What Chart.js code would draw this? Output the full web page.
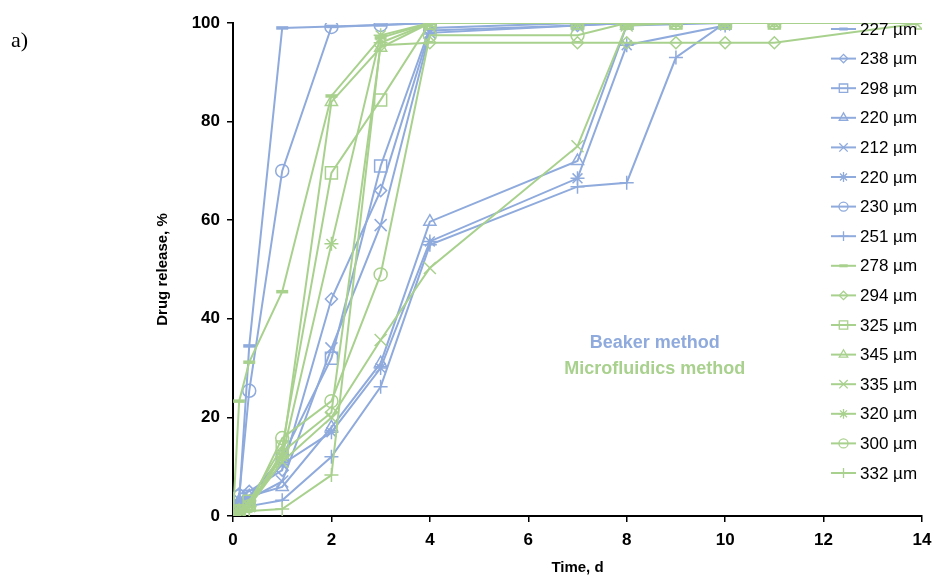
<!DOCTYPE html>
<html>
<head>
<meta charset="utf-8">
<script src="https://cdn.jsdelivr.net/npm/chart.js@4.4.1/dist/chart.umd.min.js"></script>
<style>
html,body{margin:0;padding:0;background:#fff}
#wrap{position:relative;width:932px;height:579px}
</style>
</head>
<body>
<div id="wrap"><canvas id="c" width="932" height="579"></canvas></div>
<script>
// ── Data ──────────────────────────────────────────────────────────────────────
const TIMES = [0, 0.125, 0.33, 1, 2, 3, 4, 7, 8, 9, 10, 11, 14];

const BEAKER_LABELS = ['227 µm','238 µm','298 µm','220 µm','212 µm','220 µm','230 µm','251 µm'];
const MICRO_LABELS  = ['278 µm','294 µm','325 µm','345 µm','335 µm','320 µm','300 µm','332 µm'];

// beaker method (null = no sample at that time)
const b227 = [0, 3,   34.5, 99,  99.3, 99.6, 100,  100,  100,  null, 100,  null, null];
const b238 = [0, 4.5, 5,    9.3, 44,   66,   98.5, 99.5, 100,  null, 100,  null, null];
const b298 = [0, 2,   4,    12,  32,   71,   99,   100,  100,  null, 100,  null, null];
const b220a= [0, 3,   4,    5.9, 18,   31,   59.7, 72,   99.5, null, 100,  null, null];
const b212 = [0, 2,   3.5,  7,   34,   59,   98,   99.5, 100,  null, 100,  null, null];
const b220b= [0, 2.5, 3,    10.5,17,   30,   55.7, 68.5, 95.5, null, 99.5, null, null];
const b230 = [0, 4,   25.4, 70,  99.2, 99.6, 100,  100,  100,  null, 100,  null, null];
const b251 = [0, 1,   2,    3.2, 12,   26.2, 55,   66.8, 67.6, 93,   100,  null, null];

// microfluidics method
const m278 = [0, 23.3, 31.2, 45.5, 85.2, 97,   100,  100,  100,  100, 100, 100, null];
const m294 = [0, 1,    2,    13,   21,   95.5, 96,   96,   96,   96,  96,  96,  100];
const m325 = [0, 1,    3,    14,   69.6, 84.4, 100,  100,  100,  100, 100, 100, 100];
const m345 = [0, 1,    2,    12.5, 84,   95,   100,  100,  100,  100, 100, 100, null];
const m335 = [0, 1,    2,    11,   20,   35.7, 50.3, 75,   99.5, 100, 100, 100, null];
const m320 = [0, 1,    2,    12,   55.2, 97.5, 100,  100,  100,  100, 100, 100, null];
const m300 = [0, 1,    2,    15.8, 23.3, 49,   97.5, 97.5, 100,  100, 100, 100, null];
const m332 = [0, 0.5,  1,    1.4,  8.3,  96,   100,  100,  100,  100, 100, 100, null];

const BEAKER_VALUES = [b227, b238, b298, b220a, b212, b220b, b230, b251];
const MICRO_VALUES  = [m278, m294, m325, m345, m335, m320, m300, m332];

const Y_TICKS = [0, 20, 40, 60, 80, 100];
const X_TICKS = [0, 2, 4, 6, 8, 10, 12, 14];

// ── Styles ────────────────────────────────────────────────────────────────────
const BLUE = '#8FAADC', GREEN = '#A9D18E';
const FONT = '"Liberation Sans", Arial, sans-serif';
// marker per position in each group: [pointStyle, radius, borderWidth]
const MARKERS = [
  ['line', 6, 3.5], ['rectRot', 6, 1.5], ['rect', 8.5, 1.5], ['triangle', 7, 1.5],
  ['crossRot', 8.5, 1.5], ['star', 7, 1.5], ['circle', 6.5, 1.5], ['cross', 7, 1.5]
];

function mkSet(label, vals, color, k, order) {
  const m = MARKERS[k];
  return {
    label, borderColor: color, backgroundColor: 'rgba(0,0,0,0)',
    data: TIMES.map((t, i) => ({x: t, y: vals[i]})).filter(p => p.y !== null),
    borderWidth: 2, pointStyle: m[0], pointRadius: m[1], pointBorderWidth: m[2],
    pointBackgroundColor: 'rgba(0,0,0,0)', pointBorderColor: color,
    pointHoverRadius: m[1], tension: 0, fill: false, order
  };
}

const datasets = [];
BEAKER_VALUES.forEach((v, k) => datasets.push(mkSet(BEAKER_LABELS[k], v, BLUE, k, 16 - k)));
MICRO_VALUES.forEach((v, k) => datasets.push(mkSet(MICRO_LABELS[k], v, GREEN, k, 8 - k)));

// ── Legend, annotations, panel letter ─────────────────────────────────────────
const LEG_X = 831, LEG_LINE = 25, LEG_TOP = 29, LEG_STEP = 29.6;
const extras = {
  id: 'extras',
  afterDraw(chart) {
    const ctx = chart.ctx, xs = chart.scales.x, ys = chart.scales.y;
    ctx.save();
    ctx.font = 'bold 18px ' + FONT; ctx.textAlign = 'center'; ctx.textBaseline = 'middle';
    ctx.fillStyle = BLUE;  ctx.fillText('Beaker method', xs.getPixelForValue(8.57), ys.getPixelForValue(35.1));
    ctx.fillStyle = GREEN; ctx.fillText('Microfluidics method', xs.getPixelForValue(8.57), ys.getPixelForValue(29.8));

    ctx.font = '17px ' + FONT; ctx.textAlign = 'left';
    chart.data.datasets.forEach((ds, i) => {
      const yy = LEG_TOP + i * LEG_STEP;
      ctx.strokeStyle = ds.borderColor; ctx.lineWidth = 2;
      ctx.beginPath(); ctx.moveTo(LEG_X, yy); ctx.lineTo(LEG_X + LEG_LINE, yy); ctx.stroke();
      if (Chart.helpers && Chart.helpers.drawPoint) {
        ctx.fillStyle = 'rgba(0,0,0,0)';
        ctx.lineWidth = ds.pointBorderWidth === 3.5 ? 3 : 1.3;
        Chart.helpers.drawPoint(ctx, {pointStyle: ds.pointStyle, radius: ds.pointRadius * 0.7,
          borderWidth: ctx.lineWidth, rotation: 0}, LEG_X + LEG_LINE / 2, yy);
      }
      ctx.fillStyle = '#000';
      ctx.fillText(ds.label, LEG_X + LEG_LINE + 4, yy + 1);
    });

    ctx.font = '22px "Liberation Serif", "Times New Roman", serif';
    ctx.fillStyle = '#000'; ctx.textAlign = 'left';
    ctx.fillText('a)', 11, 41);
    ctx.restore();
  }
};

new Chart(document.getElementById('c').getContext('2d'), {
  type: 'line',
  data: {datasets},
  plugins: [extras],
  options: {
    responsive: false, animation: false, events: [],
    layout: {padding: {left: 150, right: 0, top: 23, bottom: 0}},
    plugins: {legend: {display: false}, tooltip: {enabled: false}},
    scales: {
      x: {
        type: 'linear', min: 0, max: 14,
        afterBuildTicks: s => { s.ticks = X_TICKS.map(v => ({value: v})); },
        afterFit: s => { s.height = 63; s.paddingRight = 10; },
        border: {color: '#000', width: 2},
        grid: {drawOnChartArea: false, drawTicks: true, tickLength: 6, color: '#000', lineWidth: 1.5},
        ticks: {color: '#000', padding: 8, font: {family: FONT, size: 17, weight: 'bold'}, maxRotation: 0},
        title: {display: true, text: 'Time, d', color: '#000', padding: {top: 4, bottom: 2},
          font: {family: FONT, size: 15, weight: 'bold'}}
      },
      y: {
        type: 'linear', min: 0, max: 100,
        afterBuildTicks: s => { s.ticks = Y_TICKS.map(v => ({value: v})); },
        afterFit: s => { s.width = 83; },
        border: {color: '#000', width: 2},
        grid: {drawOnChartArea: false, drawTicks: true, tickLength: 6, color: '#000', lineWidth: 1.5},
        ticks: {color: '#000', padding: 7, font: {family: FONT, size: 17, weight: 'bold'}},
        title: {display: true, text: 'Drug release, %', color: '#000', padding: {top: 4, bottom: 4},
          font: {family: FONT, size: 15, weight: 'bold'}}
      }
    }
  }
});
</script>
</body>
</html>
